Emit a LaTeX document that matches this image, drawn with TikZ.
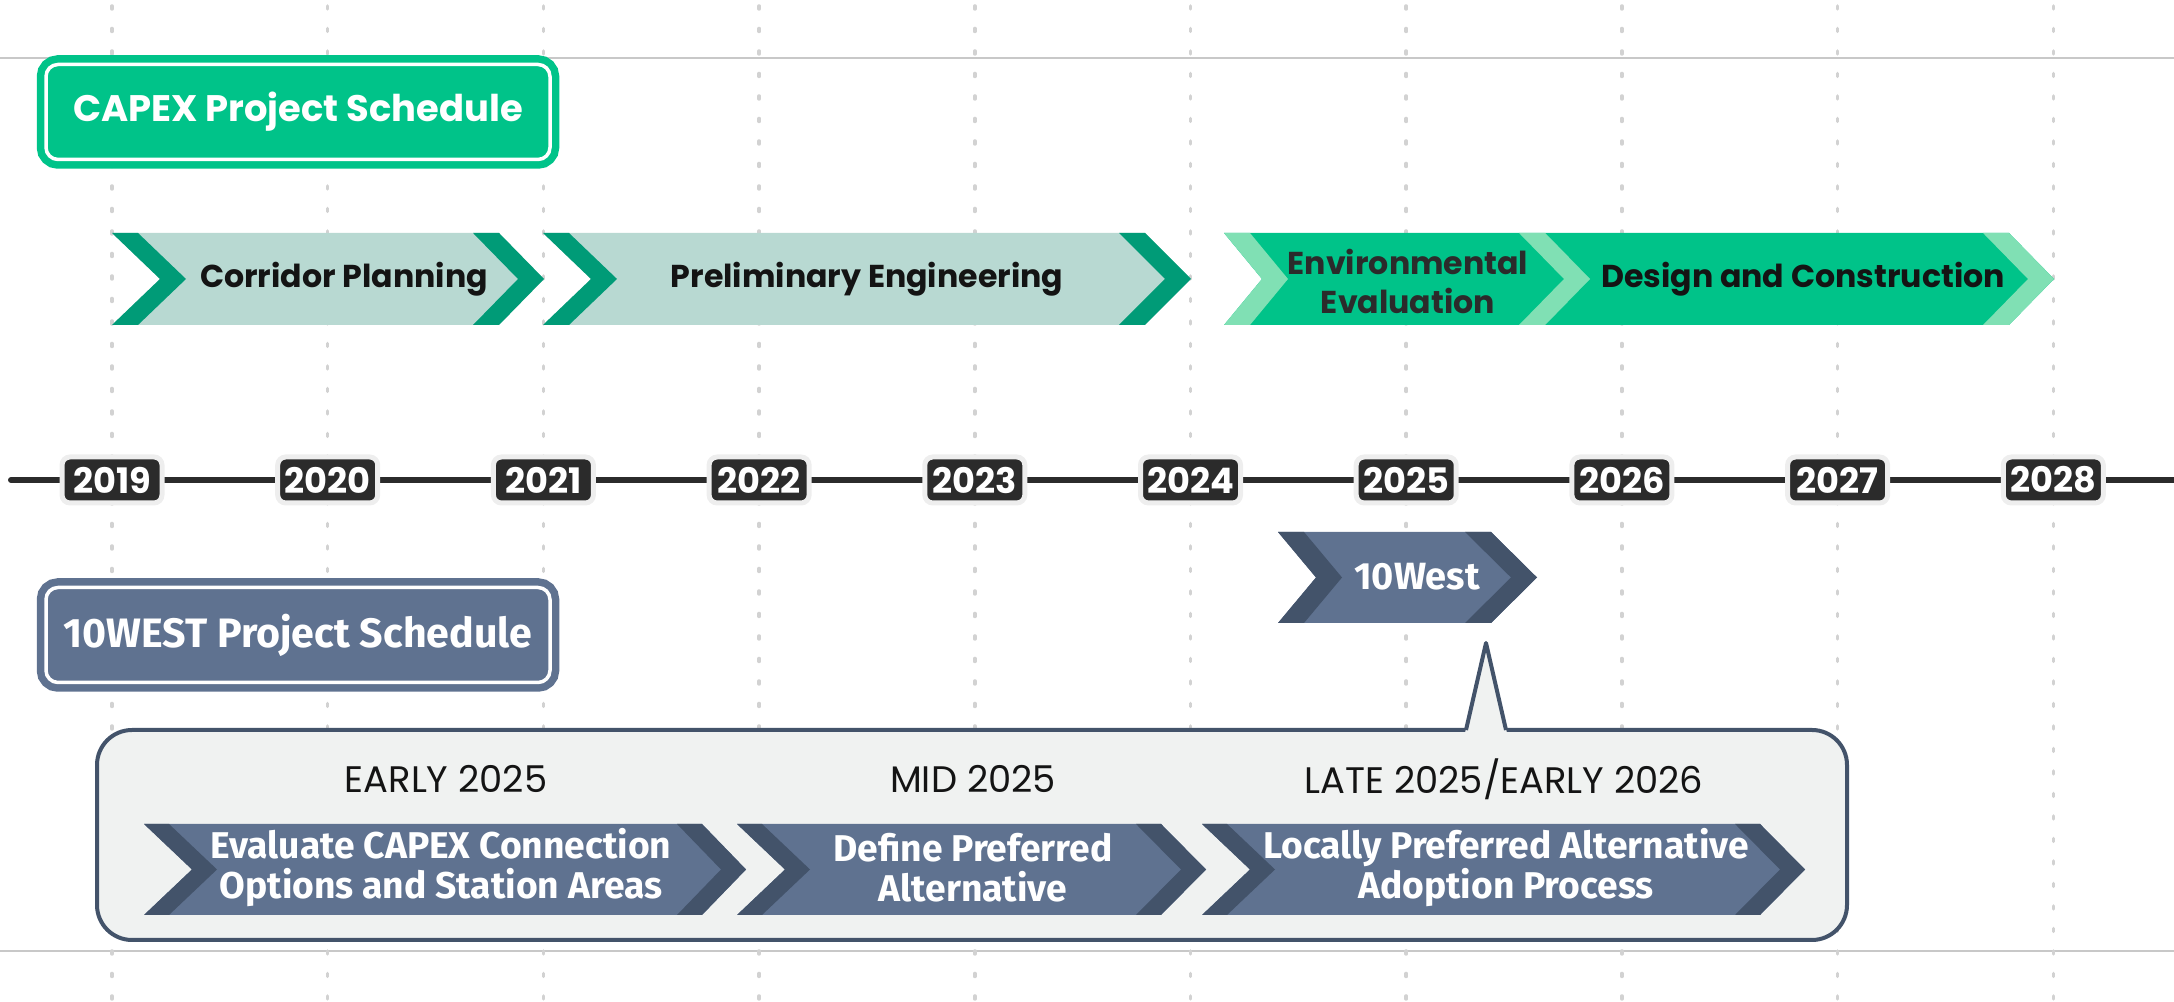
\documentclass[tikz,border=0pt]{standalone}
\usepackage{fontspec}
\setmainfont{Poppins}
\newfontfamily\firafont{Fira Sans}

\definecolor{capexgreen}{HTML}{00C389}
\definecolor{mintband}{HTML}{80E0B4}
\definecolor{tealband}{HTML}{009B77}
\definecolor{tealbody}{HTML}{B8D9D2}
\definecolor{slate}{HTML}{5F7290}
\definecolor{slatedark}{HTML}{43536A}
\definecolor{calloutbg}{HTML}{F0F2F1}
\definecolor{yearbg}{HTML}{2B2B2B}
\definecolor{yearrim}{HTML}{EEEEEE}
\definecolor{gridgrey}{HTML}{C8C8C8}
\definecolor{dotgrey}{HTML}{D2D2D2}
\definecolor{inkdark}{HTML}{141414}

\begin{document}
\begin{tikzpicture}[x=0.1mm, y=-0.1mm,
	titlebox/.style={rounded corners=1.2mm, double=white, double distance=0.35mm, line width=0.75mm,
		minimum width=50.4mm, minimum height=9.5mm, inner sep=0pt, text=white},
	griddot/.style={dotgrey, line width=0.35mm, line cap=round, dash pattern=on 0.3mm off 1.95mm},
	yearbox/.style={fill=yearbg, draw=yearrim, line width=0.5mm, rounded corners=0.8mm,
		minimum width=10mm, minimum height=4.6mm, inner sep=0pt, text=white,
		font=\fontsize{10}{10}\selectfont\bfseries},
	chevlabel/.style={text=inkdark, align=center, font=\fontsize{9}{11.1}\selectfont\bfseries},
	slatelabel/.style={text=white, align=center, font=\firafont\fontsize{10.6}{11.4}\selectfont\bfseries},
	phaselabel/.style={text=inkdark, font=\fontsize{10.5}{12}\selectfont}]
	\useasboundingbox (0,0) rectangle (2174,1002);

	% grid
	\draw [gridgrey, line width=0.2mm] (0,58) -- (2174,58);
	\draw [gridgrey, line width=0.2mm] (0,951) -- (2174,951);
	\foreach \i in {0,...,9}
		\draw [griddot] ({112+215.7*\i},6) -- ({112+215.7*\i},1002);

	% schedule titles
	\node [titlebox, draw=capexgreen, fill=capexgreen, font=\fontsize{10.5}{12}\selectfont\bfseries] (capex) at (298,112) {CAPEX Project Schedule};
	\node [titlebox, draw=slate, fill=slate, font=\firafont\fontsize{11.7}{12}\selectfont\bfseries] (tenwest) at (298,635) {10WEST Project Schedule};

	% chevrons: left x / notch / right x / tip / top / bottom / left band / body / band
	\foreach \xl/\dl/\xr/\tip/\yt/\yb/\wl/\body/\band in {
		112/48/499/544/233/325/26/tealbody/tealband,
		543/48/1145/1191/233/325/26/tealbody/tealband,
		1545/45/2009/2054/233/325/0/capexgreen/mintband,
		1224/38/1545/1590/233/325/26/capexgreen/mintband,
		1278/38/1491/1537/532/623/26/slate/slatedark}
	{
		\pgfmathsetmacro\ym{(\yt+\yb)/2}
		\fill [\body] (\xl,\yt) -- (\xr,\yt) -- (\tip,\ym) -- (\xr,\yb) -- (\xl,\yb) -- ({\xl+\dl},\ym) -- cycle;
		\fill [\band] (\xl,\yt) -- ({\xl+\wl},\yt) -- ({\xl+\wl+\dl},\ym) -- ({\xl+\wl},\yb) -- (\xl,\yb) -- ({\xl+\dl},\ym) -- cycle;
		\fill [\band] ({\xr-26},\yt) -- (\xr,\yt) -- (\tip,\ym) -- (\xr,\yb) -- ({\xr-26},\yb) -- ({\tip-26},\ym) -- cycle;
	}
	\node [chevlabel] (corridor) at (344,279) {Corridor Planning};
	\node [chevlabel] (prelim) at (867,279) {Preliminary Engineering};
	\node [chevlabel, text=yearbg] (enveval) at (1408,281) {Environmental\\Evaluation};
	\node [chevlabel] (design) at (1803,279) {Design and Construction};

	% timeline
	\coordinate (tl west) at (11,480);
	\coordinate (tl east) at (2174,480);
	\draw [yearbg, line width=0.6mm, line cap=round] (tl west) -- (tl east);
	\foreach \yr [count=\i from 0] in {2019,...,2028}
		\node [yearbox] (y\yr) at ({112+215.7*\i},480) {\yr};

	\node [slatelabel, font=\firafont\fontsize{10.8}{11}\selectfont\bfseries] (tenwestarrow) at (1417,577) {10West};

	% callout
	\coordinate (pointer) at (1486,643);
	\draw [fill=calloutbg, draw=slatedark, line width=0.4mm, rounded corners=3.5mm] (97,730) rectangle (1847,940);
	\fill [calloutbg] (1465,733) -- (pointer) -- (1507,733) -- cycle;
	\draw [slatedark, line width=0.4mm, line join=round] (1466,730) -- (pointer) -- (1506,730);

	\foreach \xl/\xr/\tip in {144/702/746, 737/1161/1206, 1202/1760/1805}
	{
		\fill [slate] (\xl,824) -- (\xr,824) -- (\tip,869.5) -- (\xr,915) -- (\xl,915) -- ({\xl+48},869.5) -- cycle;
		\fill [slatedark] (\xl,824) -- ({\xl+25},824) -- ({\xl+73},869.5) -- ({\xl+25},915) -- (\xl,915) -- ({\xl+48},869.5) -- cycle;
		\fill [slatedark] ({\xr-25},824) -- (\xr,824) -- (\tip,869.5) -- (\xr,915) -- ({\xr-25},915) -- ({\tip-25},869.5) -- cycle;
	}
	\node [phaselabel] (early) at (446,779) {EARLY 2025};
	\node [phaselabel] (mid) at (973,779) {MID 2025};
	\node [phaselabel] (late) at (1504,779) {LATE 2025/EARLY 2026};
	\node [slatelabel] (evaluate) at (441,868) {Evaluate CAPEX Connection\\Options and Station Areas};
	\node [slatelabel] (define) at (973,868) {Define Preferred\\Alternative};
	\node [slatelabel] (locally) at (1506,868) {Locally Preferred Alternative\\Adoption Process};
\end{tikzpicture}
\end{document}
